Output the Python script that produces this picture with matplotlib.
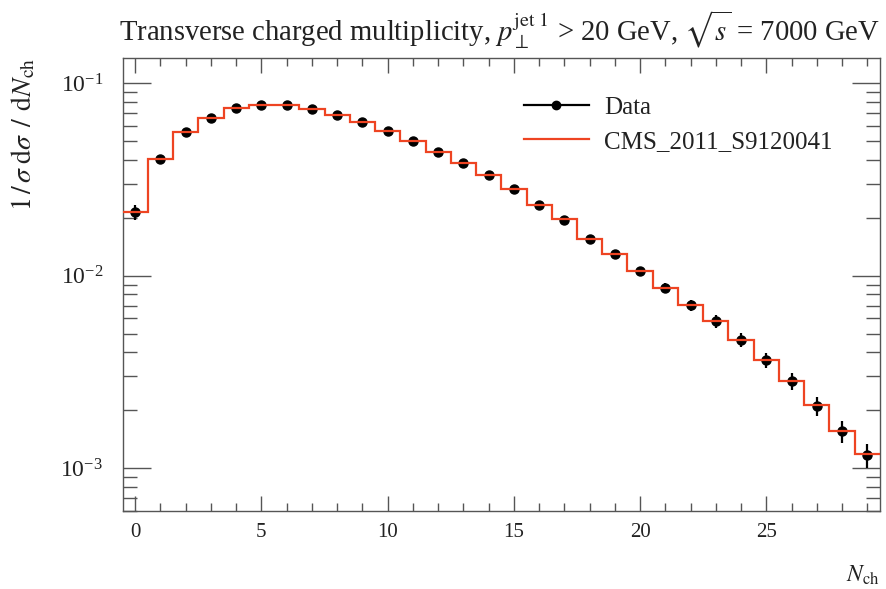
import matplotlib
matplotlib.use("Agg")
from matplotlib import pyplot as plt
from matplotlib.lines import Line2D
from matplotlib.ticker import LogLocator, MultipleLocator, NullFormatter
import numpy as np

plt.rcParams['font.family'] = ['Liberation Serif', 'DejaVu Serif']
plt.rcParams['mathtext.fontset'] = 'stix'

n_ch = np.arange(0, 30)
data = [0.0213, 0.0402, 0.0558, 0.0656, 0.0740, 0.0767, 0.0767, 0.0735, 0.0684, 0.0629,
        0.0565, 0.0501, 0.0437, 0.0386, 0.0332, 0.0282, 0.0233, 0.0195, 0.0155, 0.0130,
        0.0106, 0.00865, 0.00705, 0.00579, 0.00464, 0.00365, 0.00284, 0.00211, 0.00156, 0.00117]
data_err = [0.0019, 0.0012, 0.0015, 0.0017, 0.0019, 0.0020, 0.0020, 0.0019, 0.0018, 0.0017,
            0.0016, 0.0015, 0.0013, 0.0012, 0.0011, 0.0010, 0.0009, 0.0008, 0.0007, 0.0006,
            0.0005, 0.00050, 0.00047, 0.00043, 0.00038, 0.00033, 0.00028, 0.00023, 0.00020, 0.00016]
mc = [0.0213, 0.0402, 0.0560, 0.0660, 0.0742, 0.0768, 0.0768, 0.0733, 0.0682, 0.0627,
      0.0563, 0.0500, 0.0437, 0.0386, 0.0333, 0.0283, 0.0234, 0.0196, 0.0156, 0.0130,
      0.0106, 0.00865, 0.00705, 0.00580, 0.00465, 0.00366, 0.00285, 0.00212, 0.00157, 0.00118]

edges = np.arange(-0.5, 30.5, 1.0)
red = '#EE4422'

fig = plt.figure(figsize=(8.86, 5.89), dpi=100)
ax = fig.add_axes([0.1383, 0.1316, 0.8549, 0.7699])

ax.errorbar(n_ch, data, yerr=data_err, fmt='o', color='black', markersize=6.5,
            elinewidth=1.6, capsize=0, zorder=2)
ax.stairs(mc, edges, color=red, linewidth=1.6, baseline=None, zorder=3)

ax.set_yscale('log')
ax.set_xlim(-0.5, 29.5)
ax.set_ylim(5.97e-4, 0.135)

ax.xaxis.set_major_locator(MultipleLocator(5))
ax.xaxis.set_minor_locator(MultipleLocator(1))
ax.yaxis.set_major_locator(LogLocator(base=10))
ax.yaxis.set_minor_locator(LogLocator(base=10, subs=np.arange(2, 10)))
ax.yaxis.set_minor_formatter(NullFormatter())

for side in ax.spines.values():
    side.set_color('#555555')
    side.set_linewidth(1.0)
ax.tick_params(which='both', direction='in', top=True, right=True, colors='#555555',
               labelcolor='#222222')
ax.tick_params(axis='x', which='major', length=11, width=1.0, pad=8, labelsize=15)
ax.tick_params(axis='x', which='minor', length=6, width=1.0)
ax.tick_params(axis='y', which='major', length=20, width=1.0, pad=14, labelsize=17)
ax.tick_params(axis='y', which='minor', length=10, width=1.0)

ax.set_title(r'Transverse charged multiplicity, $p_\perp^{\mathrm{jet\ 1}}$ > 20 GeV, '
             r'$\sqrt{s}$ = 7000 GeV', loc='right', fontsize=20.6, color='#222222', pad=12)
ax.set_xlabel(r'$N_{\mathrm{ch}}$', fontsize=17, color='#222222')
ax.xaxis.set_label_coords(1.0, -0.115)
ax.xaxis.label.set_horizontalalignment('right')
ax.set_ylabel(r'$1\,/\,\sigma\;\mathrm{d}\sigma\;\,/\;\,\mathrm{d}N_{\mathrm{ch}}$', fontsize=20,
              color='#222222')
ax.yaxis.set_label_coords(-0.112, 1.0)
ax.yaxis.label.set_horizontalalignment('right')

handles = [Line2D([], [], color='black', marker='o', markersize=6, linewidth=1.6),
           Line2D([], [], color=red, linewidth=1.6)]
leg = ax.legend(handles, ['Data', 'CMS_2011_S9120041'], loc='upper left',
                bbox_to_anchor=(0.50, 0.965), frameon=False, fontsize=18,
                handlelength=2.6, handletextpad=0.6, labelspacing=0.45)
for t in leg.get_texts():
    t.set_color('#222222')

fig.savefig('out.png', dpi=100)
